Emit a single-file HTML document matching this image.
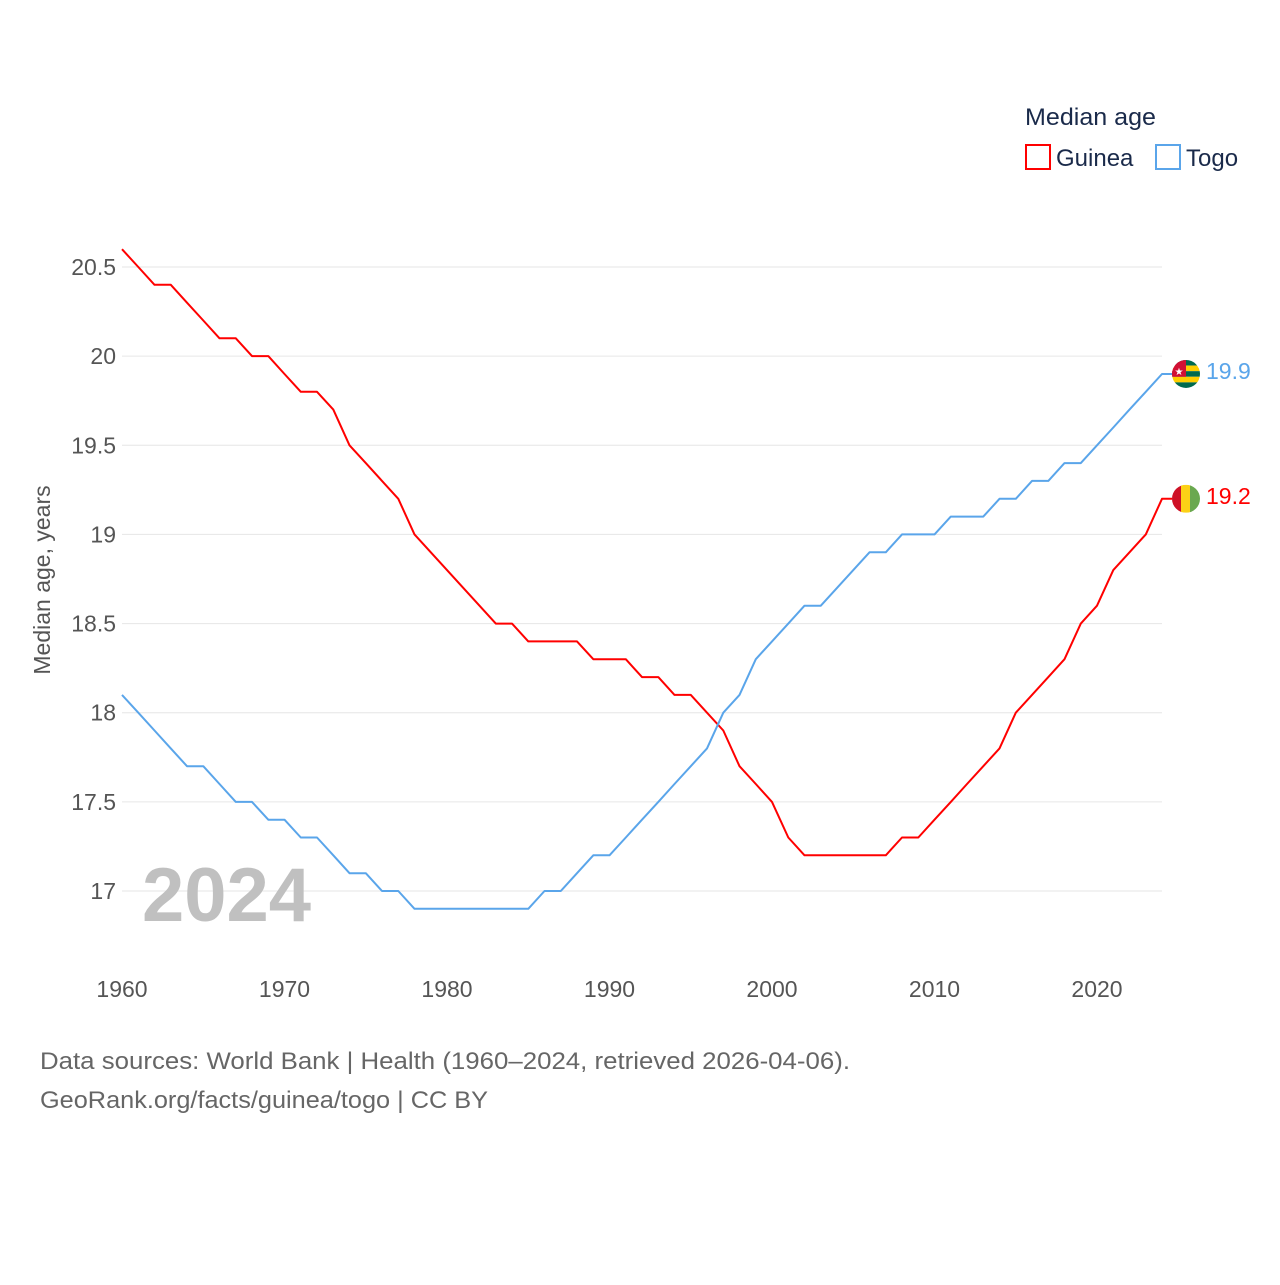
<!DOCTYPE html>
<html><head><meta charset="utf-8"><style>
body{margin:0;background:#fff;width:1280px;height:1280px;overflow:hidden;font-family:"Liberation Sans",sans-serif}
svg text{font-family:"Liberation Sans",sans-serif}
</style></head><body>
<svg id="chart" width="1280" height="1280" xmlns="http://www.w3.org/2000/svg">
<g id="grid"></g>
<g id="yticks"></g>
<g id="xticks"></g>
<text transform="translate(50,580) rotate(-90)" text-anchor="middle" font-size="23" fill="#555">Median age, years</text>
<text x="142" y="921" font-size="76" font-weight="bold" fill="#c0c0c0">2024</text>
<g id="series"></g>
<g>
<text x="1025" y="125" font-size="24" fill="#1a2a4a" textLength="131" lengthAdjust="spacingAndGlyphs">Median age</text>
<rect x="1026" y="145" width="24" height="24" fill="none" stroke="#ff0000" stroke-width="2"/>
<text x="1056" y="166" font-size="24" fill="#1a2a4a">Guinea</text>
<rect x="1156" y="145" width="24" height="24" fill="none" stroke="#5aa5ea" stroke-width="2"/>
<text x="1186" y="166" font-size="24" fill="#1a2a4a">Togo</text>
</g>
<text x="40" y="1069" font-size="24" fill="#666" textLength="810" lengthAdjust="spacingAndGlyphs">Data sources: World Bank | Health (1960–2024, retrieved 2026-04-06).</text>
<text x="40" y="1108" font-size="24" fill="#666" textLength="448" lengthAdjust="spacingAndGlyphs">GeoRank.org/facts/guinea/togo | CC BY</text>
</svg>
<script>
const years=[];for(let y=1960;y<=2024;y++)years.push(y);
const guinea=[20.6,20.5,20.4,20.4,20.3,20.2,20.1,20.1,20.0,20.0,19.9,19.8,19.8,19.7,19.5,19.4,19.3,19.2,19.0,18.9,18.8,18.7,18.6,18.5,18.5,18.4,18.4,18.4,18.4,18.3,18.3,18.3,18.2,18.2,18.1,18.1,18.0,17.9,17.7,17.6,17.5,17.3,17.2,17.2,17.2,17.2,17.2,17.2,17.3,17.3,17.4,17.5,17.6,17.7,17.8,18.0,18.1,18.2,18.3,18.5,18.6,18.8,18.9,19.0,19.2];
const togo=[18.1,18.0,17.9,17.8,17.7,17.7,17.6,17.5,17.5,17.4,17.4,17.3,17.3,17.2,17.1,17.1,17.0,17.0,16.9,16.9,16.9,16.9,16.9,16.9,16.9,16.9,17.0,17.0,17.1,17.2,17.2,17.3,17.4,17.5,17.6,17.7,17.8,18.0,18.1,18.3,18.4,18.5,18.6,18.6,18.7,18.8,18.9,18.9,19.0,19.0,19.0,19.1,19.1,19.1,19.2,19.2,19.3,19.3,19.4,19.4,19.5,19.6,19.7,19.8,19.9];
const yTicks=[17,17.5,18,18.5,19,19.5,20,20.5];
const yTickLabels=["17","17.5","18","18.5","19","19.5","20","20.5"];
const xTicks=[1960,1970,1980,1990,2000,2010,2020];
const NS="http://www.w3.org/2000/svg";
const X=v=>122+(v-1960)*(1162-122)/64;
const Y=v=>891-(v-17)*(891-267)/3.5;
function mk(tag,attrs,parent){const e=document.createElementNS(NS,tag);for(const k in attrs)e.setAttribute(k,attrs[k]);parent.appendChild(e);return e;}
const grid=document.getElementById('grid'),yt=document.getElementById('yticks'),xt=document.getElementById('xticks'),ser=document.getElementById('series');
yTicks.forEach((t,i)=>{
 const l=mk('line',{x1:122,x2:1162,y1:Y(t),y2:Y(t),stroke:'#e6e6e6','stroke-width':1},grid);
 
 
 const tx=mk('text',{x:116,y:Y(t)+8,'text-anchor':'end','font-size':23,fill:'#555'},yt);
 tx.textContent=yTickLabels[i];
 
 
});
xTicks.forEach(t=>{
 const tx=mk('text',{x:X(t),y:997,'text-anchor':'middle','font-size':23,fill:'#555'},xt);
 tx.textContent=t;
 
 
});
function line(vals,color,name){
 const d=vals.map((v,i)=>(i?'L':'M')+X(years[i]).toFixed(1)+','+Y(v).toFixed(1)).join(' ')+' H'+(X(2024)+10);
 const p=mk('path',{d:d,fill:'none',stroke:color,'stroke-width':2,'stroke-linejoin':'round'},ser);
 
 
 const last=vals[vals.length-1];
 const t=mk('text',{x:1206,y:Y(last)+5,'font-size':23,fill:color},ser);
 t.textContent=last.toFixed(1);
 
 
 return Y(last);
}
const gy=line(guinea,'#ff0000','guinea');
const ty=line(togo,'#5aa5ea','togo');
const defs=mk('defs',{},ser);
const c1=mk('clipPath',{id:'cg'},defs);mk('circle',{cx:1186,cy:gy,r:14},c1);
const c2=mk('clipPath',{id:'ct'},defs);mk('circle',{cx:1186,cy:ty,r:14},c2);
const fg=mk('g',{'clip-path':'url(#cg)'},ser);


mk('rect',{x:1172,y:gy-14,width:10,height:28,fill:'#ce1126'},fg);
mk('rect',{x:1181,y:gy-14,width:10,height:28,fill:'#fcd116'},fg);
mk('rect',{x:1190,y:gy-14,width:10,height:28,fill:'#6aa84f'},fg);
const ft=mk('g',{'clip-path':'url(#ct)'},ser);


for(let i=0;i<5;i++)mk('rect',{x:1172,y:ty-14+i*5.6,width:28,height:5.6,fill:i%2?'#ffce00':'#006a4e'},ft);
mk('rect',{x:1172,y:ty-14,width:14,height:16.8,fill:'#d21034'},ft);
const st=mk('text',{x:1179,y:ty+1,'font-size':10,fill:'#fff','text-anchor':'middle'},ft);st.textContent='★';
</script>
</body></html>
